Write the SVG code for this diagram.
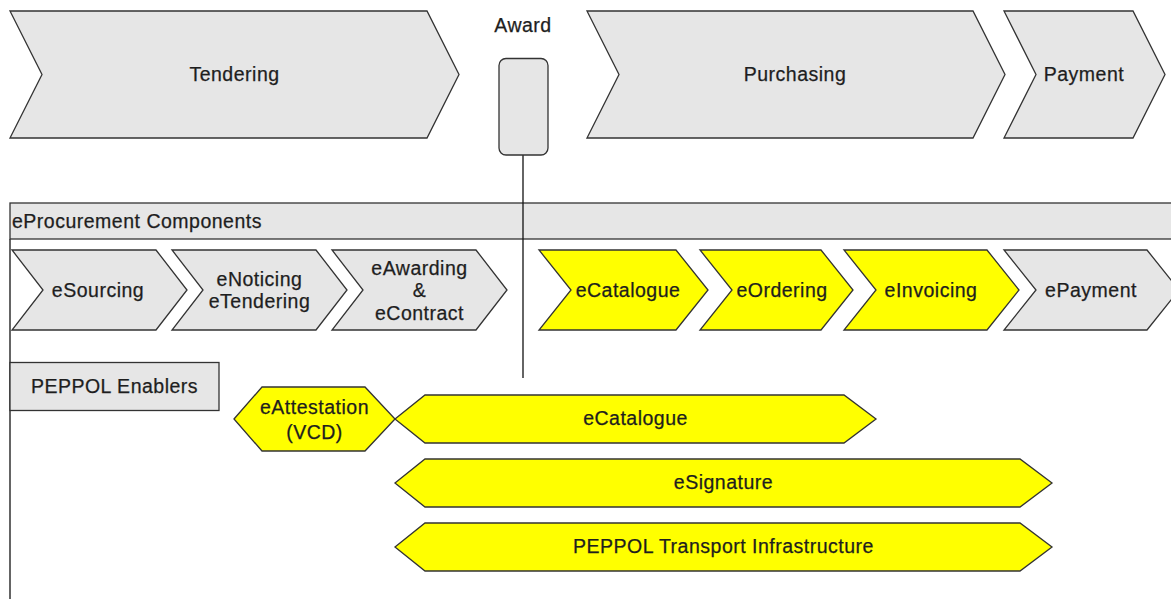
<svg xmlns="http://www.w3.org/2000/svg" width="1171" height="599" viewBox="0 0 1171 599">
<style>
.g{fill:#e6e6e6;stroke:#333;stroke-width:1.3}
.y{fill:#ffff00;stroke:#333;stroke-width:1.3}
.t{font-family:"Liberation Sans",Arial,Helvetica,sans-serif;font-size:19.5px;letter-spacing:0.5px;fill:#1e1e1e;stroke:#1e1e1e;stroke-width:0.25;text-anchor:middle;dominant-baseline:central}
.l{text-anchor:start}
.c{fill:none;stroke:#111;stroke-width:1.3}
</style>
<rect width="1171" height="599" fill="#fff"/>
<g id="container">
<line class="c" x1="10" y1="239" x2="10" y2="605"/>
<rect class="g" x="10" y="203" width="1175" height="36"/>
<text class="t l" x="12" y="221">eProcurement Components</text>
</g>
<g id="connectors">
<line class="c" x1="523" y1="155" x2="523" y2="378"/>
</g>
<g id="tendering">
<polygon class="g" points="10,11 427,11 459,74.5 427,138 10,138 42,74.5"/>
<text class="t" x="234.5" y="73.5">Tendering</text>
</g>
<g id="award">
<text class="t" x="523" y="25">Award</text>
<rect class="g" x="499" y="58.5" width="49" height="96.5" rx="7"/>
</g>
<g id="purchasing">
<polygon class="g" points="587,11 973,11 1005,74.5 973,138 587,138 619,74.5"/>
<text class="t" x="795" y="73.5">Purchasing</text>
</g>
<g id="payment">
<polygon class="g" points="1004,11 1133,11 1165,74.5 1133,138 1004,138 1036,74.5"/>
<text class="t" x="1084" y="73.5">Payment</text>
</g>
<g id="esourcing">
<polygon class="g" points="12,250 156,250 187,290 156,330 12,330 43,290"/>
<text class="t" x="98" y="290">eSourcing</text>
</g>
<g id="enoticing">
<polygon class="g" points="172,250 316,250 347,290 316,330 172,330 203,290"/>
<text class="t" x="259.5" y="279">eNoticing</text>
<text class="t" x="259.5" y="301">eTendering</text>
</g>
<g id="eawarding">
<polygon class="g" points="332,250 476,250 507,290 476,330 332,330 363,290"/>
<text class="t" x="419.5" y="268">eAwarding</text>
<text class="t" x="419.5" y="290">&amp;</text>
<text class="t" x="419.5" y="313">eContract</text>
</g>
<g id="ecatalogue">
<polygon class="y" points="539,250 676,250 708,290 676,330 539,330 571,290"/>
<text class="t" x="628" y="290">eCatalogue</text>
</g>
<g id="eordering">
<polygon class="y" points="700,250 821,250 853,290 821,330 700,330 732,290"/>
<text class="t" x="782" y="290">eOrdering</text>
</g>
<g id="einvoicing">
<polygon class="y" points="844,250 987,250 1019,290 987,330 844,330 876,290"/>
<text class="t" x="931" y="290">eInvoicing</text>
</g>
<g id="epayment">
<polygon class="g" points="1004,250 1147,250 1179,290 1147,330 1004,330 1036,290"/>
<text class="t" x="1091" y="290">ePayment</text>
</g>
<g id="peppol-enablers">
<rect class="g" x="10" y="362.5" width="209" height="48"/>
<text class="t" x="114.5" y="386">PEPPOL Enablers</text>
</g>
<g id="eattestation">
<polygon class="y" points="234,419 262,387 365,387 395,419 365,451 262,451"/>
<text class="t" x="314.5" y="407">eAttestation</text>
<text class="t" x="314.5" y="432">(VCD)</text>
</g>
<g id="ecatalogue-enabler">
<polygon class="y" points="395,419 425,395 844,395 876,419 844,443 425,443"/>
<text class="t" x="635.5" y="418">eCatalogue</text>
</g>
<g id="esignature">
<polygon class="y" points="395,483 425,459 1020,459 1052,483 1020,507 425,507"/>
<text class="t" x="723.5" y="482">eSignature</text>
</g>
<g id="transport">
<polygon class="y" points="395,547 425,523 1020,523 1052,547 1020,571 425,571"/>
<text class="t" x="723.5" y="546">PEPPOL Transport Infrastructure</text>
</g>
</svg>
